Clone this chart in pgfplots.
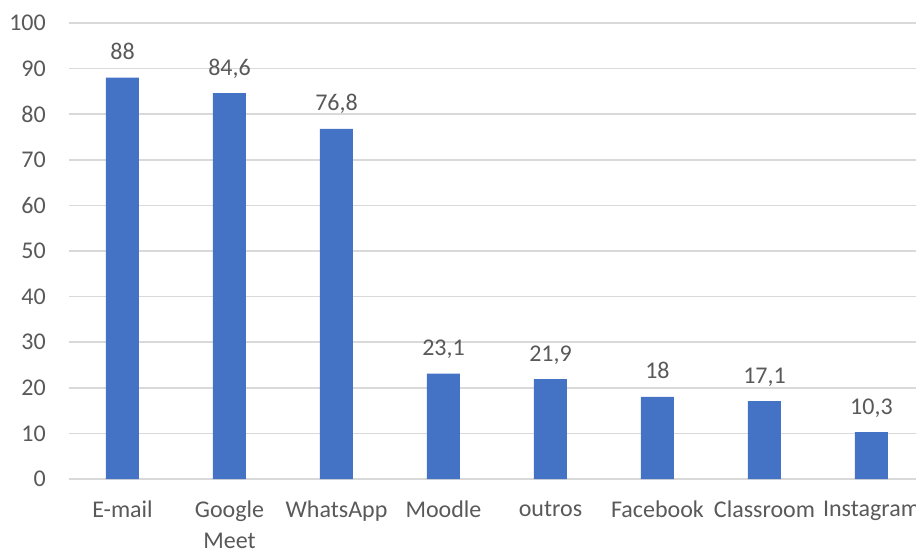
\documentclass[border=0pt]{standalone}
\usepackage{pgfplots}
\pgfplotsset{compat=1.18}
\usepackage{fontspec}
\setmainfont{Carlito}
\definecolor{barblue}{HTML}{4472C4}
\definecolor{gridgray}{HTML}{D9D9D9}
\definecolor{txtgray}{HTML}{595959}
\begin{document}
\begin{tikzpicture}[x=1pt,y=1pt]
\begin{axis}[
    at={(0,0)}, anchor=south west,
    scale only axis, width=847pt, height=456pt,
    xmin=-0.5, xmax=7.416, ymin=0, ymax=100,
    ytick={0,10,...,100},
    xtick={0,...,7},
    xticklabels={E-mail,Google\\Meet,WhatsApp,Moodle,outros,Facebook,Classroom,Instagram},
    axis line style={draw=none},
    major tick length=0pt,
    ymajorgrids,
    grid style={gridgray, line width=1.5pt},
    tick label style={font=\fontsize{24}{31}\selectfont, text=txtgray, inner sep=0pt},
    yticklabel style={anchor=east, xshift=-23pt},
    xticklabel style={anchor=north, align=center, yshift=-22pt},
    /pgf/number format/assume math mode=true,
    /pgf/number format/use comma,
    ybar, bar width=33pt,
    nodes near coords,
    nodes near coords style={font=\fontsize{24}{28}\selectfont, text=txtgray,
        anchor=base, inner sep=0pt, yshift=18pt},
]
\addplot[fill=barblue, draw=none] coordinates {
    (0,88) (1,84.6) (2,76.8) (3,23.1) (4,21.9) (5,18) (6,17.1) (7,10.3)};
\end{axis}
\pgfresetboundingbox
\path[use as bounding box] (-69,-70) rectangle (847,479);
\end{tikzpicture}
\end{document}
